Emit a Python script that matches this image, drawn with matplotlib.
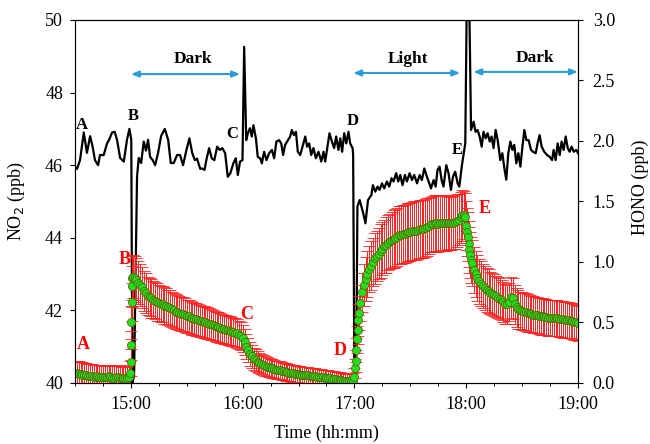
import matplotlib
matplotlib.use('Agg')
import matplotlib.pyplot as plt
import numpy as np
from matplotlib.ticker import FuncFormatter, MultipleLocator

plt.rcParams['font.family'] = ['Liberation Serif', 'DejaVu Serif']

# NO2 (ppb) ; tiempo en minutos desde las 14:30
no2_t = [0.0, 1.1, 2.7, 4.7, 6.4, 8.1, 9.5, 10.7, 12.4, 13.4,
         15.4, 17.2, 18.3, 19.9, 21.3, 22.6, 24.2, 26.2, 27.9, 29.2,
         30.2, 30.8, 31.7, 33.3, 34.2, 35.5, 36.9, 38.1, 39.2, 40.3,
         41.7, 43.0, 44.6, 46.2, 48.2, 50.0, 51.4, 53.0, 54.8, 56.4,
         58.0, 59.6, 61.4, 62.9, 64.3, 65.5, 67.2, 68.1, 69.5, 70.7,
         72.0, 73.4, 74.8, 76.3, 77.7, 79.1, 80.6, 82.0, 83.4, 85.0,
         86.3, 87.4, 88.6, 89.9, 90.8, 91.9, 92.8, 93.9, 94.9, 95.8,
         97.1, 98.1, 99.4, 100.3, 101.5, 102.8, 104.2, 105.7, 106.9, 108.1,
         109.6, 110.7, 111.7, 112.8, 114.3, 115.5, 116.4, 117.5, 118.6, 119.6,
         120.9, 122.1, 123.6, 124.6, 125.7, 126.8, 128.0, 129.3, 130.7, 132.2,
         133.4, 134.3, 135.5, 136.6, 137.9, 139.1, 140.2, 141.4, 142.4, 143.4,
         144.5, 145.6, 146.8, 147.7, 149.0, 149.3, 150.0, 150.9, 151.6, 152.8,
         154.6, 155.9, 157.3, 159.1, 159.9, 161.2, 162.4, 163.5, 164.8, 166.0,
         167.4, 168.7, 169.9, 171.0, 172.4, 173.5, 174.6, 175.8, 177.1, 178.2,
         179.6, 180.9, 182.1, 183.6, 185.0, 186.2, 187.5, 188.6, 189.8, 191.1,
         192.5, 193.6, 194.6, 195.7, 196.8, 197.8, 199.3, 200.5, 201.8, 202.9,
         204.1, 205.4, 206.3, 207.7, 209.5, 210.4, 211.5, 212.6, 214.0, 215.0,
         216.1, 217.2, 218.3, 219.3, 220.4, 221.5, 222.6, 223.6, 224.7, 225.8,
         226.9, 228.3, 229.4, 230.5, 231.5, 232.6, 233.7, 234.8, 235.8, 236.9,
         238.0, 239.1, 240.1, 241.2, 242.3, 243.5, 244.8, 245.9, 247.3, 248.3,
         249.4, 250.5, 251.9, 253.4, 254.8, 256.1, 256.9, 258.0, 259.1, 260.2,
         261.2, 262.3, 263.4, 264.5, 265.5, 266.6, 267.7, 269.1, 270.0]
no2_v = [45.96, 45.90, 46.14, 46.90, 46.34, 46.80, 46.50, 46.14, 46.00, 46.28,
         46.28, 46.60, 46.70, 46.90, 46.92, 46.69, 46.20, 46.10, 46.70, 47.00,
         46.70, 40.00, 40.20, 45.68, 46.20, 46.06, 46.65, 46.40, 46.70, 46.23,
         46.14, 46.00, 46.34, 46.80, 47.00, 46.70, 46.06, 46.06, 46.28, 46.28,
         46.00, 46.37, 46.74, 46.34, 46.14, 46.18, 45.90, 45.91, 45.87, 46.19,
         46.47, 46.19, 46.14, 46.51, 46.42, 46.47, 46.33, 45.68, 45.78, 46.05,
         46.19, 45.73, 46.10, 46.14, 49.26, 46.69, 46.88, 47.02, 46.79, 47.10,
         46.74, 46.23, 46.19, 46.05, 46.37, 46.14, 46.33, 46.42, 46.19, 46.65,
         46.69, 46.60, 46.28, 46.56, 46.69, 46.79, 46.97, 46.83, 46.92, 46.37,
         46.28, 46.51, 46.79, 46.51, 46.60, 46.28, 46.47, 46.19, 46.37, 46.10,
         46.37, 46.10, 46.51, 46.88, 46.65, 46.47, 46.79, 46.42, 46.74, 46.37,
         46.88, 46.60, 46.92, 46.60, 46.47, 46.30, 40.00, 40.00, 44.86, 45.04,
         44.70, 44.40, 45.04, 45.18, 45.45, 45.27, 45.41, 45.32, 45.50, 45.36,
         45.55, 45.41, 45.64, 45.55, 45.78, 45.55, 45.73, 45.45, 45.73, 45.55,
         45.78, 45.59, 45.73, 45.50, 45.73, 45.59, 45.91, 45.73, 45.55, 45.36,
         45.59, 45.41, 45.87, 45.96, 45.59, 45.41, 46.00, 45.78, 45.32, 45.68,
         45.82, 45.50, 45.41, 46.00, 46.60, 51.00, 51.00, 46.97, 47.20, 46.92,
         46.97, 46.79, 46.51, 46.92, 46.74, 46.88, 46.65, 46.79, 46.47, 46.97,
         46.69, 46.14, 46.33, 45.91, 45.60, 46.33, 46.65, 46.42, 46.56, 46.05,
         46.33, 45.96, 46.47, 46.97, 46.69, 46.69, 46.42, 46.37, 46.33, 46.60,
         46.83, 46.51, 46.37, 46.28, 46.23, 46.14, 46.42, 46.14, 46.60, 46.28,
         46.65, 46.42, 46.79, 46.47, 46.37, 46.51, 46.37, 46.42, 46.33]

# HONO (ppb) y su desviacion, por tramos
hono1_v = [0.085, 0.080, 0.078, 0.072, 0.070, 0.066, 0.062, 0.060, 0.058, 0.055,
           0.052, 0.050, 0.055, 0.050, 0.046, 0.050, 0.052, 0.046, 0.055, 0.050,
           0.045, 0.042, 0.046, 0.050, 0.045, 0.040, 0.038, 0.045, 0.040, 0.050]
hono1_e = [0.100, 0.100, 0.100, 0.100, 0.100, 0.100, 0.100, 0.100, 0.100, 0.100,
           0.095, 0.095, 0.095, 0.095, 0.095, 0.095, 0.095, 0.095, 0.095, 0.095,
           0.095, 0.095, 0.095, 0.095, 0.095, 0.095, 0.095, 0.095, 0.095, 0.095]

subida1_t = [29.6, 29.8, 30.0, 30.2, 30.4, 30.6, 30.8]
subida1_v = [0.08, 0.17, 0.31, 0.50, 0.67, 0.80, 0.87]
subida1_e = [0.10, 0.11, 0.12, 0.14, 0.16, 0.17, 0.18]

hono2_v = [0.88, 0.87, 0.85, 0.83, 0.81, 0.79, 0.76, 0.74, 0.72, 0.71,
           0.70, 0.69, 0.68, 0.67, 0.66, 0.655, 0.65, 0.64, 0.635, 0.625,
           0.62, 0.61, 0.60, 0.59, 0.585, 0.58, 0.57, 0.57, 0.56, 0.55,
           0.55, 0.54, 0.535, 0.53, 0.525, 0.52, 0.515, 0.51, 0.505, 0.50,
           0.495, 0.49, 0.485, 0.48, 0.47, 0.465, 0.46, 0.455, 0.45, 0.445,
           0.44, 0.435, 0.43, 0.425, 0.42, 0.415, 0.41, 0.40, 0.39, 0.37,
           0.34, 0.30, 0.27, 0.24, 0.22, 0.20, 0.19, 0.175, 0.165, 0.155,
           0.15, 0.14, 0.135, 0.13, 0.125, 0.12, 0.115, 0.11, 0.108, 0.105,
           0.10, 0.095, 0.092, 0.09, 0.085, 0.082, 0.08, 0.078, 0.075, 0.072,
           0.07, 0.068, 0.066, 0.064, 0.062, 0.06, 0.058, 0.056, 0.054, 0.052,
           0.05, 0.048, 0.046, 0.044, 0.042, 0.04, 0.038, 0.035, 0.033, 0.03,
           0.028, 0.025, 0.022, 0.02, 0.018, 0.015, 0.015, 0.018, 0.02]
hono2_e = [0.18, 0.18, 0.18, 0.175, 0.17, 0.17, 0.165, 0.165, 0.16, 0.16,
           0.16, 0.155, 0.155, 0.155, 0.15, 0.15, 0.15, 0.15, 0.148, 0.146,
           0.145, 0.145, 0.144, 0.143, 0.142, 0.141, 0.14, 0.14, 0.14, 0.138,
           0.137, 0.136, 0.135, 0.134, 0.133, 0.132, 0.131, 0.13, 0.13, 0.13,
           0.129, 0.128, 0.127, 0.126, 0.125, 0.124, 0.123, 0.122, 0.122, 0.121,
           0.12, 0.12, 0.12, 0.119, 0.118, 0.118, 0.117, 0.116, 0.115, 0.113,
           0.11, 0.105, 0.10, 0.097, 0.094, 0.091, 0.089, 0.087, 0.085, 0.083,
           0.082, 0.08, 0.079, 0.078, 0.077, 0.076, 0.075, 0.075, 0.074, 0.074,
           0.073, 0.072, 0.072, 0.071, 0.071, 0.07, 0.07, 0.07, 0.069, 0.069,
           0.068, 0.068, 0.068, 0.067, 0.067, 0.067, 0.066, 0.066, 0.066, 0.065,
           0.065, 0.065, 0.065, 0.064, 0.064, 0.064, 0.063, 0.063, 0.063, 0.062,
           0.062, 0.062, 0.061, 0.061, 0.06, 0.06, 0.06, 0.06, 0.06]

subida2_t = [150.0, 150.4, 150.7, 151.0, 151.3, 151.7, 152.1, 152.5]
subida2_v = [0.05, 0.12, 0.18, 0.27, 0.36, 0.44, 0.52, 0.58]
subida2_e = [0.07, 0.08, 0.09, 0.10, 0.11, 0.12, 0.13, 0.14]

hono3_v = [0.66, 0.75, 0.81, 0.86, 0.90, 0.94, 0.97, 1.00, 1.03, 1.05,
           1.07, 1.09, 1.11, 1.13, 1.14, 1.16, 1.17, 1.18, 1.19, 1.20,
           1.21, 1.22, 1.225, 1.23, 1.235, 1.24, 1.245, 1.25, 1.255, 1.26,
           1.26, 1.265, 1.27, 1.27, 1.275, 1.28, 1.29, 1.30, 1.31, 1.315,
           1.32, 1.32, 1.315, 1.32, 1.325, 1.32, 1.32, 1.325, 1.32, 1.32,
           1.325, 1.33, 1.34, 1.35, 1.37, 1.385, 1.39]
hono3_e = [0.15, 0.16, 0.17, 0.18, 0.19, 0.19, 0.20, 0.20, 0.21, 0.21,
           0.21, 0.22, 0.22, 0.22, 0.23, 0.23, 0.23, 0.23, 0.24, 0.24,
           0.24, 0.24, 0.24, 0.24, 0.24, 0.24, 0.24, 0.24, 0.24, 0.24,
           0.24, 0.24, 0.24, 0.24, 0.24, 0.24, 0.24, 0.23, 0.23, 0.23,
           0.23, 0.23, 0.23, 0.23, 0.23, 0.23, 0.23, 0.22, 0.22, 0.22,
           0.22, 0.22, 0.22, 0.21, 0.21, 0.21, 0.20]

bajada_t = [209.5, 210.0, 210.4, 210.8, 211.3, 211.7, 212.2, 212.6]
bajada_v = [1.37, 1.30, 1.25, 1.21, 1.15, 1.10, 1.06, 1.02]
bajada_e = [0.20, 0.20, 0.20, 0.20, 0.19, 0.19, 0.19, 0.19]

hono4_v = [0.99, 0.93, 0.90, 0.87, 0.84, 0.82, 0.80, 0.785, 0.77, 0.76,
           0.745, 0.735, 0.725, 0.715, 0.705, 0.695, 0.685, 0.67, 0.655, 0.65,
           0.67, 0.71, 0.70, 0.65, 0.625, 0.61, 0.60, 0.595, 0.59, 0.585,
           0.58, 0.575, 0.57, 0.565, 0.56, 0.56, 0.555, 0.55, 0.55, 0.545,
           0.545, 0.54, 0.54, 0.535, 0.54, 0.54, 0.535, 0.53, 0.53, 0.525,
           0.52, 0.52, 0.52, 0.515, 0.51, 0.505, 0.50, 0.495]
hono4_e = [0.19, 0.19, 0.19, 0.19, 0.185, 0.185, 0.18, 0.18, 0.18, 0.18,
           0.175, 0.175, 0.175, 0.17, 0.17, 0.17, 0.165, 0.165, 0.165, 0.16,
           0.16, 0.17, 0.17, 0.16, 0.16, 0.16, 0.155, 0.155, 0.155, 0.155,
           0.155, 0.155, 0.15, 0.15, 0.15, 0.15, 0.15, 0.15, 0.15, 0.15,
           0.15, 0.15, 0.15, 0.15, 0.15, 0.15, 0.15, 0.15, 0.15, 0.15,
           0.148, 0.148, 0.148, 0.147, 0.147, 0.146, 0.146, 0.145]

# un dato por minuto en los tramos regulares
hono_t = np.concatenate([np.arange(0, 30), subida1_t, np.arange(31, 150),
                         subida2_t, np.arange(153, 210), bajada_t, np.arange(213, 271)])
hono_v = np.concatenate([hono1_v, subida1_v, hono2_v, subida2_v, hono3_v, bajada_v, hono4_v])
hono_e = np.concatenate([hono1_e, subida1_e, hono2_e, subida2_e, hono3_e, bajada_e, hono4_e])


def horas(m):
    return 14.5 + np.asarray(m, dtype=float) / 60.0


def fmt_hora(h, pos):
    hh = int(np.floor(h + 1e-6))
    mm = int(round((h - hh) * 60))
    return f"{hh}:{mm:02d}"


fig = plt.figure(figsize=(6.5, 4.44), dpi=100)
ax = fig.add_axes([0.1154, 0.1374, 0.7738, 0.8176])

ax.plot(horas(no2_t), no2_v, color='black', lw=1.6)
ax.set_xlim(14.5, 19.0)
ax.set_ylim(40, 50)
ax.set_yticks([40, 42, 44, 46, 48, 50])
ax.xaxis.set_major_locator(MultipleLocator(1))
ax.xaxis.set_minor_locator(MultipleLocator(0.25))
ax.xaxis.set_major_formatter(FuncFormatter(fmt_hora))

ax2 = ax.twinx()
ax2.errorbar(horas(hono_t), hono_v, yerr=hono_e, fmt='o', ms=5.8,
             mfc='#22dd22', mec='#5c6a00', mew=0.6,
             ecolor='#ff2020', elinewidth=0.7, capsize=4.5, capthick=0.8)
ax2.set_ylim(0, 3.0)
ax2.set_yticks([0, 0.5, 1.0, 1.5, 2.0, 2.5, 3.0])
ax2.yaxis.set_major_formatter(FuncFormatter(lambda v, p: f"{v:.1f}"))

for a in (ax, ax2):
    for s in a.spines.values():
        s.set_linewidth(0.8)
ax.tick_params(axis='both', which='major', direction='out', length=3.6, width=0.8, labelsize=13)
ax.tick_params(axis='x', which='major', pad=6)
ax.tick_params(axis='y', which='major', pad=5)
ax.tick_params(axis='x', which='minor', direction='out', length=2.2, width=0.7)
ax2.tick_params(axis='y', which='major', direction='out', length=3.6, width=0.8, labelsize=13, pad=7)

ax.set_xlabel('Time (hh:mm)', fontsize=13)
ax.set_ylabel('NO$_2$ (ppb)', fontsize=13)
ax2.set_ylabel('HONO (ppb)', fontsize=13)
ax.xaxis.set_label_coords(0.5, -0.115)
ax.yaxis.set_label_coords(-0.095, 0.5)
ax2.yaxis.set_label_coords(1.107, 0.54)

# flechas de periodos
azul = '#2b9cd8'
flechas = [(15.0, 15.977, 48.51), (16.988, 17.947, 48.54), (18.063, 19.0, 48.57)]
for x0, x1, y in flechas:
    ax.annotate('', xy=(x1, y), xytext=(x0, y),
                arrowprops=dict(arrowstyle='<|-|>,head_length=0.45,head_width=0.18',
                                color=azul, lw=1.5, shrinkA=0, shrinkB=0),
                annotation_clip=False)
ax.text(15.557, 48.93, 'Dark', fontsize=12.5, fontweight='bold', ha='center', va='center')
ax.text(17.48, 48.93, 'Light', fontsize=12.5, fontweight='bold', ha='center', va='center')
ax.text(18.617, 48.95, 'Dark', fontsize=12.5, fontweight='bold', ha='center', va='center')

# letras de eventos
negras = [('A', 14.563, 47.10), ('B', 15.02, 47.36), ('C', 15.903, 46.86),
          ('D', 16.983, 47.23), ('E', 17.923, 46.42)]
for txt, x, y in negras:
    ax.text(x, y, txt, fontsize=12, fontweight='bold', ha='center', va='center')
rojas = [('A', 14.575, 0.32), ('B', 14.948, 1.02), ('C', 16.032, 0.57),
         ('D', 16.873, 0.267), ('E', 18.162, 1.44)]
for txt, x, y in rojas:
    ax2.text(x, y, txt, fontsize=13, fontweight='bold', color='red', ha='center', va='center')

fig.savefig('out.png', dpi=100)
